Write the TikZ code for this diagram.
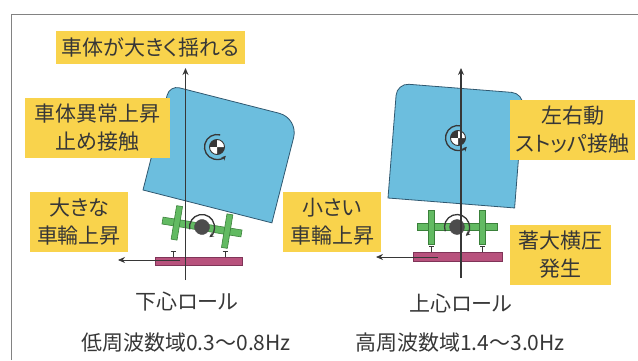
\documentclass[tikz,border=0pt]{standalone}
\usepackage{fontspec}
\setmainfont{Noto Sans CJK JP}[RawFeature={+palt}]
\usetikzlibrary{arrows.meta}
\definecolor{bodyblue}{RGB}{108,190,222}
\definecolor{bodyedge}{RGB}{48,88,112}
\definecolor{labelyellow}{RGB}{249,211,76}
\definecolor{wheelgreen}{RGB}{98,186,98}
\definecolor{wheeledge}{RGB}{58,128,58}
\definecolor{railpink}{RGB}{184,82,125}
\definecolor{railedge}{RGB}{128,52,88}
\definecolor{inkgray}{RGB}{55,55,55}
\definecolor{framegray}{RGB}{130,130,130}
\tikzset{
  note/.style={fill=labelyellow, text=inkgray, inner sep=0pt, align=center,
    font=\fontsize{21}{28}\selectfont},
  caption/.style={text=inkgray, inner sep=0pt, font=\fontsize{21}{26}\selectfont},
  axis/.style={inkgray, line width=1.1pt, -{Stealth[length=7pt,width=6pt]}},
  spin/.style={inkgray, line width=1.3pt, -{Stealth[length=4.5pt,width=4.5pt]}},
  carbody/.style={draw=bodyedge, fill=bodyblue, line width=0.8pt},
  wheel/.style={draw=wheeledge, fill=wheelgreen, line width=0.6pt},
  rail/.style={draw=railedge, fill=railpink, line width=0.6pt},
}
% car body: width, height, top-left radius, top-right radius
\newcommand{\carshape}[4]{%
  \draw[carbody] (0,0) -- (#1,0) -- (#1,#2-#4) arc (0:90:#4) -- (#3,#2) arc (90:180:#3) -- cycle;}
% wheelset around the current origin
\newcommand{\wheelset}{%
  \draw[wheel] (-40,-3.5) rectangle (40,3.5);
  \draw[wheel] (-28.5,-17) rectangle (-22.5,17);
  \draw[wheel] (22.5,-17) rectangle (28.5,17);
  \draw[black!70, fill=gray!60!black] (0,0) circle (7.5);
  \draw[spin] (200:12.5) arc (200:-45:12.5);}
% centre of gravity mark
\newcommand{\cgmark}[1]{%
  \fill[inkgray] (#1) circle (7.5);
  \fill[white] (#1) -- ++(7.5,0) arc (0:90:7.5) -- cycle;
  \fill[white] (#1) -- ++(-7.5,0) arc (180:270:7.5) -- cycle;
  \draw[inkgray, line width=0.9pt] (#1) circle (7.5);
  \draw[spin] ([shift={(75:12.5)}]#1) arc (75:315:12.5);}
% rail head under a wheel
\newcommand{\railhead}[2]{%
  \draw[inkgray, line width=0.9pt] (#1,#2) -- (#1,#2+6) (#1-2.5,#2+6) -- (#1+2.5,#2+6);}
\begin{document}
\begin{tikzpicture}[x=1pt, y=1pt]
\useasboundingbox (0,0) rectangle (638,360);
\draw[framegray, line width=1pt] (11,0) -- (11,346) -- (638,346);

% low centre roll
\begin{scope}[shift={(143,170)}, rotate=-14.3]
  \carshape{133}{108}{10}{20}
\end{scope}
\draw[rail] (155,95) rectangle (242,103);
\railhead{173}{103}
\railhead{225}{103}
\begin{scope}[shift={(202,133)}, rotate=-9.3]
  \wheelset
\end{scope}
\coordinate (cgL) at (217,213);
\cgmark{cgL}
\coordinate (axisLb) at (185.5,80);
\coordinate (axisLt) at (185.5,292);
\coordinate (pushLa) at (180,100);
\coordinate (pushLb) at (118,100);
\draw[axis] (axisLb) -- (axisLt);
\draw[axis, line width=0.8pt] (pushLa) -- (pushLb);

% high centre roll
\begin{scope}[shift={(388,162)}, rotate=-4.5]
  \carshape{127}{115}{12}{12}
\end{scope}
\draw[rail] (413,99) rectangle (502,108);
\railhead{431.5}{108}
\railhead{482.5}{108}
\begin{scope}[shift={(457,133)}]
  \wheelset
\end{scope}
\coordinate (cgR) at (458,222);
\cgmark{cgR}
\coordinate (axisRb) at (461,82);
\coordinate (axisRt) at (461,292);
\coordinate (pushRa) at (438,103);
\coordinate (pushRb) at (376,103);
\draw[axis] (axisRb) -- (axisRt);
\draw[axis, line width=0.8pt] (pushRa) -- (pushRb);

% labels
\node[note, minimum width=189pt, minimum height=33pt] (sway) at (150.5,312.5) {車体が大きく揺れる};
\node[note, minimum width=145pt, minimum height=60pt] (stopper) at (97.5,232) {車体異常上昇\\止め接触};
\node[note, minimum width=98pt, minimum height=60pt] (liftbig) at (79,138) {大きな\\車輪上昇};
\node[note, minimum width=98pt, minimum height=60pt] (liftsmall) at (332,138) {小さい\\車輪上昇};
\node[note, minimum width=125pt, minimum height=60pt] (lateral) at (572.5,230) {左右動\\ストッパ接触};
\node[note, minimum width=101pt, minimum height=60pt] (force) at (560.5,105) {著大横圧\\発生};

\node[caption] (rollL) at (187,58) {下心ロール};
\node[caption] (freqL) at (186,17) {低周波数域0.3〜0.8Hz};
\node[caption] (rollR) at (461,57) {上心ロール};
\node[caption] (freqR) at (460,17) {高周波数域1.4〜3.0Hz};
\end{tikzpicture}
\end{document}
